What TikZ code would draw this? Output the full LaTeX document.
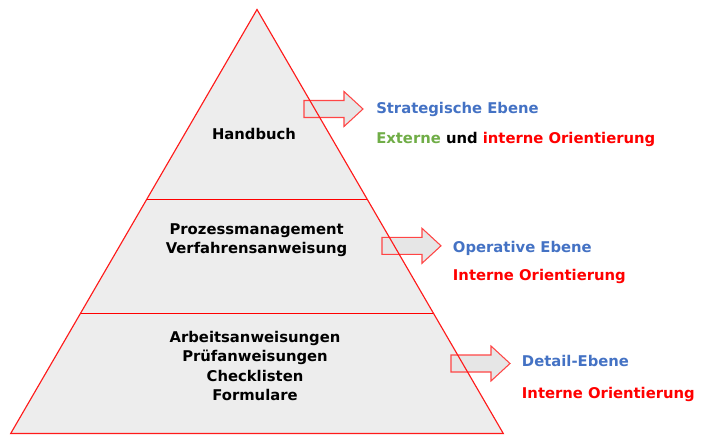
\documentclass[tikz,border=0pt]{standalone}
\usepackage{fontspec}
\setmainfont{DejaVu Sans}
\definecolor{pyrfill}{HTML}{EDEDED}
\definecolor{arrfill}{HTML}{E6E6E6}
\definecolor{pyrline}{HTML}{FF1A1A}
\definecolor{arrline}{HTML}{FF4545}
\definecolor{txtblue}{HTML}{4472C4}
\definecolor{txtgreen}{HTML}{70AD47}
\definecolor{txtred}{HTML}{FF0000}
\newcommand\myblockarrow[2]{%
  \draw[blockarr] (#1,#2-8.5) -- ++(40,0) -- ++(0,-9) -- ++(19,17.5)
    -- ++(-19,17.5) -- ++(0,-9) -- ++(-40,0) -- cycle;}
\tikzset{
  pyredge/.style={draw=pyrline, line width=0.85pt, line join=miter},
  divline/.style={draw=red, line width=1.1pt},
  blockarr/.style={draw=arrline, fill=arrfill, line width=0.8pt, line join=miter},
  lbl/.style={inner sep=0pt, font=\bfseries\fontsize{11.1}{13}\selectfont},
  ctr/.style={lbl, anchor=base, text=black},
  side/.style={lbl, anchor=base west},
}
\begin{document}
\begin{tikzpicture}[x=0.75pt, y=-0.75pt]
\useasboundingbox (0,0) rectangle (704,442);
\coordinate (apex) at (257,9.5);
\coordinate (bl) at (10.7,433.5);
\coordinate (br) at (503.3,433.5);
\coordinate (d1l) at (147.2,199.5);
\coordinate (d1r) at (366.8,199.5);
\coordinate (d2l) at (80.4,313.5);
\coordinate (d2r) at (433.6,313.5);
% fill
\fill[pyrfill] (apex) -- (br) -- (bl) -- cycle;
% arrows
\myblockarrow{304}{109}
\myblockarrow{382}{245.8}
\myblockarrow{451}{363.5}
% dividers and outline
\draw[divline] (d1l) -- (d1r);
\draw[divline] (d2l) -- (d2r);
\draw[pyredge] (apex) -- (br) -- (bl) -- cycle;
% pyramid texts
\node[ctr] (hb) at (254,140) {Handbuch};
\node[ctr] (pm) at (256.7,235) {Prozessmanagement};
\node[ctr] (va) at (256.5,254) {Verfahrensanweisung};
\node[ctr] (aa) at (255,342.7) {Arbeitsanweisungen};
\node[ctr] (pa) at (255,362) {Prüfanweisungen};
\node[ctr] (cl) at (255,381.3) {Checklisten};
\node[ctr] (fo) at (255,400.6) {Formulare};
% side texts
\node[side, text=txtblue] (se) at (376,113.3) {Strategische Ebene};
\node[side] (eo) at (376,143.3) {\textcolor{txtgreen}{Externe} und \textcolor{txtred}{interne Orientierung}};
\node[side, text=txtblue] (oe) at (452.7,252.3) {Operative Ebene};
\node[side, text=txtred] (io1) at (452.7,281) {Interne Orientierung};
\node[side, text=txtblue] (de) at (521.7,366.7) {Detail-Ebene};
\node[side, text=txtred] (io2) at (521.7,398.3) {Interne Orientierung};
\end{tikzpicture}
\end{document}
